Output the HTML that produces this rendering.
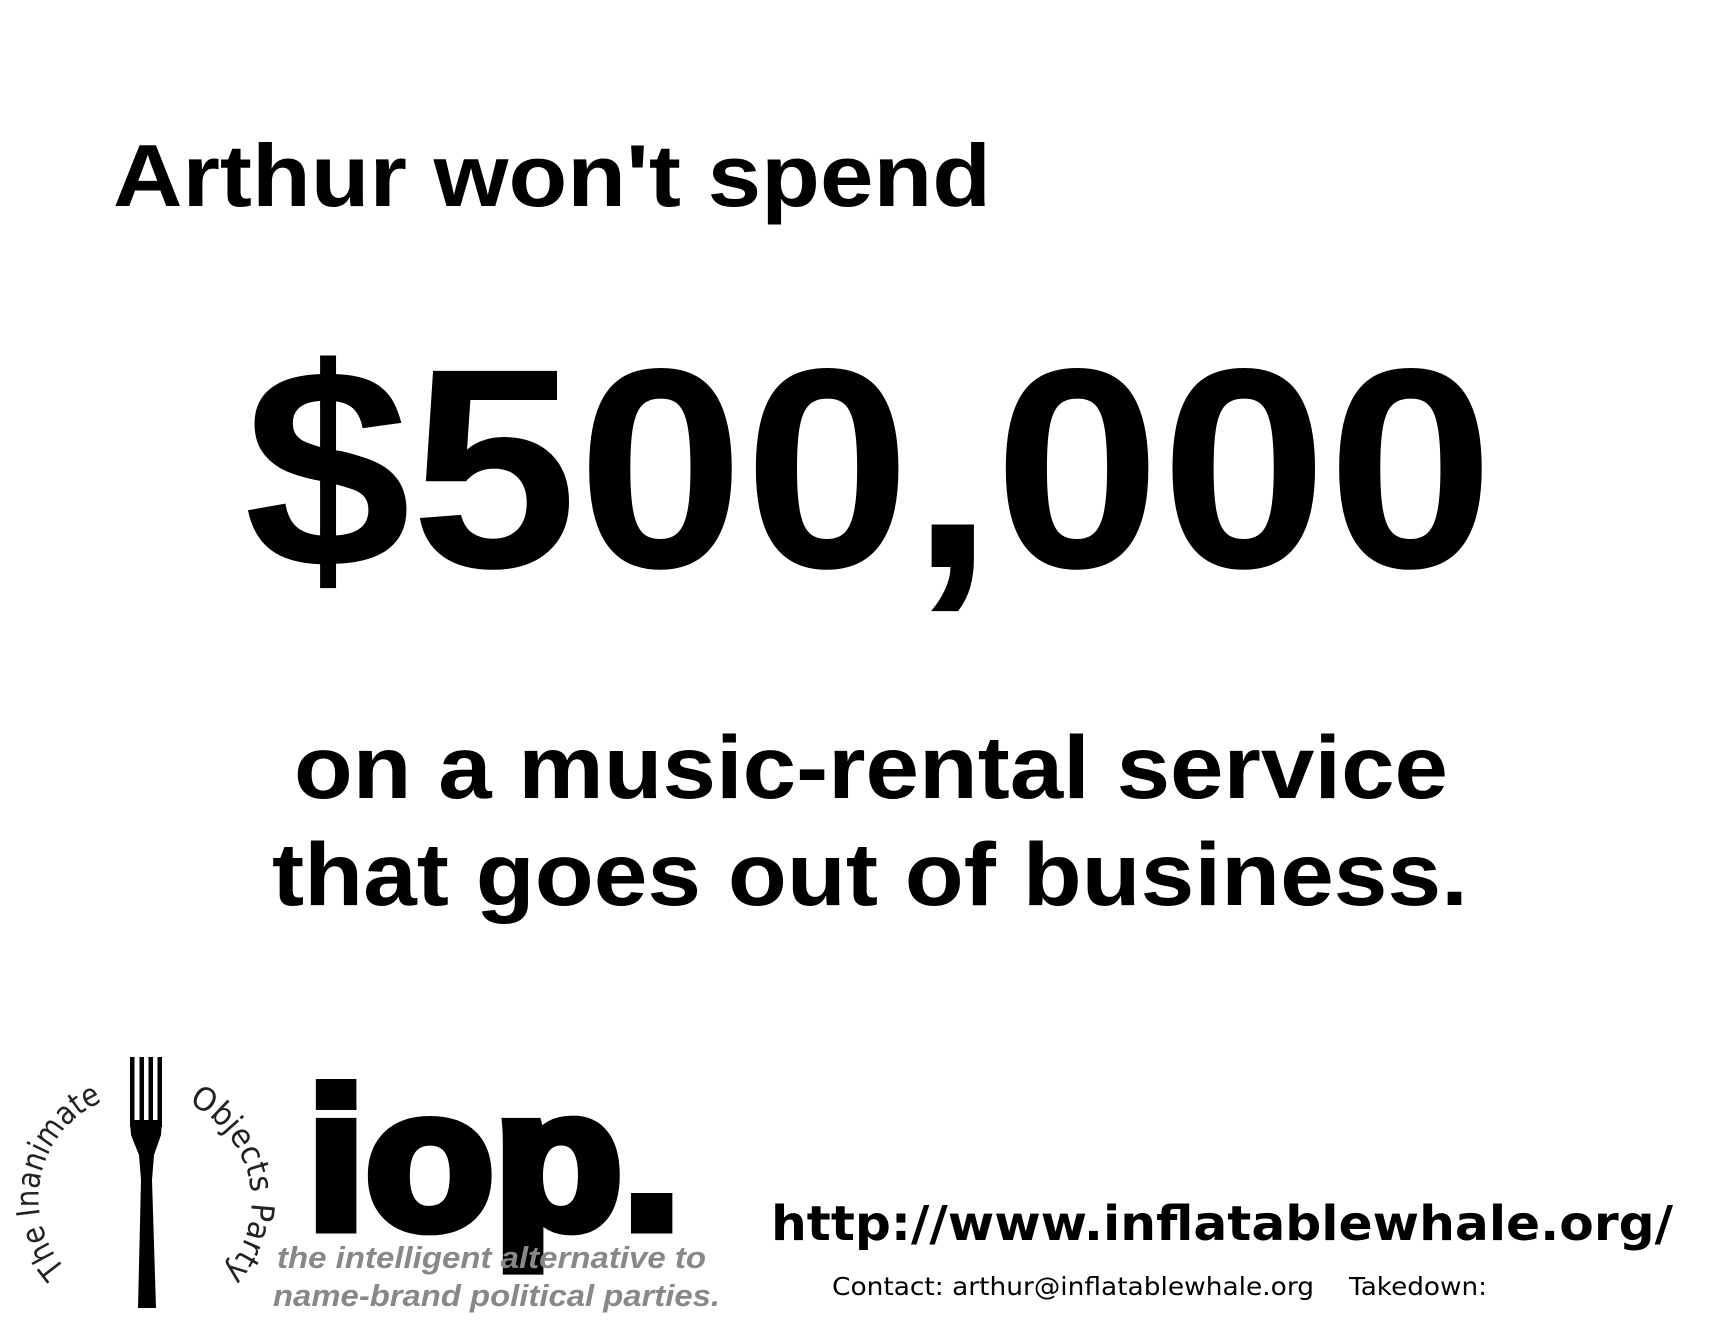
<!DOCTYPE html>
<html><head><meta charset="utf-8"><style>html,body{margin:0;padding:0;background:#fff;}svg{display:block}</style></head>
<body>
<svg width="1729" height="1329" viewBox="0 0 1729 1329" xmlns="http://www.w3.org/2000/svg">
<rect width="1729" height="1329" fill="#fff"/>
<g font-family="Liberation Sans, Arial, sans-serif" font-weight="bold" fill="#000">
<text x="113" y="206" font-size="88" textLength="878" lengthAdjust="spacingAndGlyphs">Arthur won't spend</text>
<text x="244" y="567" font-size="285" textLength="1250" lengthAdjust="spacingAndGlyphs">$500,000</text>
<text x="294" y="798" font-size="89" textLength="1154" lengthAdjust="spacingAndGlyphs">on a music-rental service</text>
<text x="272" y="905" font-size="89" textLength="1196" lengthAdjust="spacingAndGlyphs">that goes out of business.</text>
</g>
<g>
<defs><path id="arc" d="M65.8,1268.9 A105,105 0 1 1 224.2,1131.1 A105,105 0 1 1 65.8,1268.9"/></defs>
<text font-family="DejaVu Sans, sans-serif" font-size="32" fill="#222"><textPath href="#arc" startOffset="0" textLength="200" lengthAdjust="spacingAndGlyphs">The Inanimate</textPath></text>
<text font-family="DejaVu Sans, sans-serif" font-size="32" fill="#222"><textPath href="#arc" startOffset="288" textLength="202" lengthAdjust="spacingAndGlyphs">Objects Party</textPath></text>
<g fill="#000">
<rect x="130" y="1057" width="4.5" height="70"/><rect x="139.5" y="1057" width="4.5" height="70"/><rect x="148.5" y="1057" width="4.5" height="70"/><rect x="157.5" y="1057" width="4.5" height="70"/>
<path d="M130,1120 L162,1120 L161,1135 L154,1155 L152,1180 L156,1308 L138,1308 L141,1180 L139,1155 L131,1135 Z"/>
</g>
<text x="307" y="1228" font-family="Liberation Sans, Arial, sans-serif" font-weight="bold" font-size="198" stroke="#000" stroke-width="11" stroke-linejoin="miter" textLength="374" lengthAdjust="spacingAndGlyphs">iop.</text>
<g font-family="Liberation Sans, Arial, sans-serif" font-weight="bold" font-style="italic" font-size="31" fill="#888">
<text x="277" y="1268" textLength="429" lengthAdjust="spacingAndGlyphs">the intelligent alternative to</text>
<text x="273" y="1306" textLength="447" lengthAdjust="spacingAndGlyphs">name-brand political parties.</text>
</g>
</g>
<text x="771" y="1240" font-family="DejaVu Sans, sans-serif" font-weight="bold" font-size="48" textLength="902" lengthAdjust="spacingAndGlyphs">http://www.inflatablewhale.org/</text>
<g font-family="DejaVu Sans, sans-serif" font-size="25" fill="#000">
<text x="832" y="1295" textLength="482" lengthAdjust="spacingAndGlyphs">Contact: arthur@inflatablewhale.org</text>
<text x="1349" y="1295" textLength="138" lengthAdjust="spacingAndGlyphs">Takedown:</text>
</g>
</svg>
</body></html>
